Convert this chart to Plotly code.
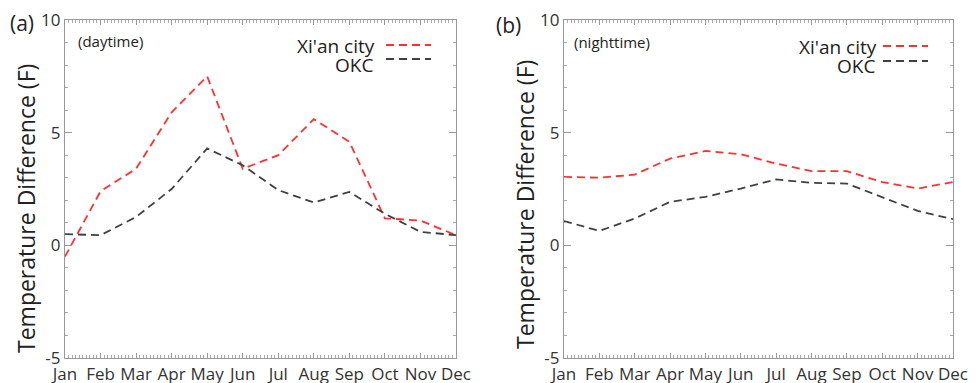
import plotly.graph_objects as go

months = ["Jan", "Feb", "Mar", "Apr", "May", "Jun", "Jul", "Aug", "Sep", "Oct", "Nov", "Dec"]
day_xian = [-0.5, 2.4, 3.4, 5.9, 7.5, 3.4, 4.0, 5.6, 4.6, 1.2, 1.1, 0.45]
day_okc = [0.5, 0.45, 1.26, 2.5, 4.3, 3.55, 2.45, 1.9, 2.37, 1.4, 0.6, 0.45]
night_xian = [3.04, 3.0, 3.14, 3.85, 4.19, 4.04, 3.63, 3.29, 3.29, 2.81, 2.52, 2.81]
night_okc = [1.08, 0.64, 1.19, 1.93, 2.15, 2.52, 2.93, 2.77, 2.74, 2.12, 1.53, 1.16]
y_ticks = [-5, 0, 5, 10]
y_tick_labels = ["-5", "0", "5", "10"]

W, H = 976, 383
RED = "#ff3030"
GRAY = "#404040"
FONT = "Open Sans"
DASH = "8px,5px"
LW = 1.8
xi = list(range(len(months)))

fig = go.Figure()
for xa, ya, s1, s2 in [("x", "y", day_xian, day_okc), ("x2", "y2", night_xian, night_okc)]:
    fig.add_trace(go.Scatter(x=xi, y=s1, xaxis=xa, yaxis=ya, mode="lines",
                             line=dict(color=RED, width=LW, dash=DASH), showlegend=False))
    fig.add_trace(go.Scatter(x=xi, y=s2, xaxis=xa, yaxis=ya, mode="lines",
                             line=dict(color=GRAY, width=LW, dash=DASH), showlegend=False))

def px(x):
    return x / W

def py(y):
    return 1 - y / H

ydom = [py(358), py(20)]
xaxis_common = dict(range=[0, 11], tickvals=xi, ticktext=months, ticks="inside", ticklen=5,
                    tickcolor="#999", showline=True, linecolor="#999", linewidth=1.2, mirror="ticks",
                    showgrid=False, zeroline=False, automargin=False,
                    tickfont=dict(family=FONT, size=17, color="#333"),
                    minor=dict(dtick=0.1, tick0=0, ticks="inside", ticklen=2.5, tickcolor="#aaa", showgrid=False))
yaxis_common = dict(range=[-5, 10], tickvals=y_ticks, ticktext=y_tick_labels, ticks="inside", ticklen=7,
                    tickcolor="#999", showline=True, linecolor="#999", linewidth=1.2, mirror="ticks",
                    showgrid=False, zeroline=False, automargin=False,
                    tickfont=dict(family=FONT, size=17, color="#333"),
                    minor=dict(dtick=1, tick0=0, ticks="inside", ticklen=3, tickcolor="#aaa", showgrid=False))

fig.update_layout(
    width=W, height=H, margin=dict(l=0, r=0, t=0, b=0, autoexpand=False),
    paper_bgcolor="white", plot_bgcolor="white",
    xaxis=dict(domain=[px(65), px(456)], anchor="y", **xaxis_common),
    yaxis=dict(domain=ydom, anchor="x", **yaxis_common),
    xaxis2=dict(domain=[px(564), px(953)], anchor="y2", **xaxis_common),
    yaxis2=dict(domain=ydom, anchor="x2", **yaxis_common),
)

ann = []
def text(x, y, s, size, xanchor="center", angle=0):
    ann.append(dict(x=px(x), y=py(y), xref="paper", yref="paper", text=s, showarrow=False,
                    xanchor=xanchor, yanchor="middle", textangle=angle,
                    font=dict(family=FONT, size=size, color="#222")))

text(22, 23, "(a)", 21)
text(509, 25, "(b)", 21)
text(26, 209, "Temperature Difference (F)", 23, angle=-90)
text(525, 205, "Temperature Difference (F)", 23, angle=-90)
text(76, 41, "(daytime)", 15, xanchor="left")
text(572, 42, "(nighttime)", 15, xanchor="left")
text(377, 46, "Xi'an city", 19, xanchor="right")
text(375, 65, "OKC", 19, xanchor="right")
text(879, 47, "Xi'an city", 19, xanchor="right")
text(877, 66, "OKC", 19, xanchor="right")
fig.update_layout(annotations=ann)

shapes = []
for x0, x1, y, c in [(386, 431, 45, RED), (386, 431, 59, GRAY), (883, 928, 46, RED), (883, 928, 61, GRAY)]:
    shapes.append(dict(type="line", xref="paper", yref="paper", x0=px(x0), x1=px(x1), y0=py(y), y1=py(y),
                       line=dict(color=c, width=LW, dash=DASH)))
fig.update_layout(shapes=shapes)

fig.write_html("out.html", config={"displayModeBar": False},
               post_script="document.body.style.margin='0px';")
